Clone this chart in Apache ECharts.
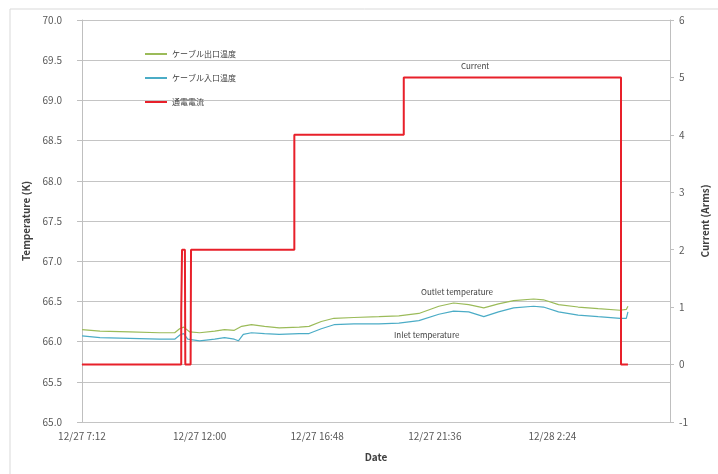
<!DOCTYPE html>
<html>
<head>
<meta charset="utf-8">
<script src="https://cdn.jsdelivr.net/npm/echarts@6/dist/echarts.min.js"></script>
<style>html,body{margin:0;padding:0;background:#fff;}#c{width:718px;height:474px;}</style>
</head>
<body>
<div id="c"></div>
<script>
// minutes since 12/27 7:12
const seriesNames = ['ケーブル出口温度', 'ケーブル入口温度', '通電電流'];

const outletTime = [0,44,117,190,227,239,249,264,288,325,349,373,391,415,447,483,532,556,586,617,666,727,776,825,874,910,947,984,1020,1057,1106,1130,1167,1215,1264,1318,1333,1337];
const outletTemp = [66.15,66.13,66.12,66.11,66.11,66.16,66.18,66.12,66.11,66.13,66.15,66.14,66.19,66.21,66.19,66.17,66.18,66.19,66.25,66.29,66.30,66.31,66.32,66.35,66.44,66.48,66.46,66.42,66.47,66.51,66.53,66.52,66.46,66.43,66.41,66.39,66.40,66.44];

const inletTime = [0,44,117,190,227,239,249,259,288,325,349,373,383,395,415,447,483,532,556,586,617,666,727,776,825,874,910,947,984,1020,1057,1106,1130,1167,1215,1264,1318,1333,1337];
const inletTemp = [66.07,66.05,66.04,66.03,66.03,66.08,66.10,66.03,66.01,66.03,66.05,66.03,66.01,66.09,66.11,66.10,66.09,66.10,66.10,66.16,66.21,66.22,66.22,66.23,66.26,66.34,66.38,66.37,66.31,66.37,66.42,66.44,66.43,66.37,66.33,66.31,66.29,66.29,66.37];

const currentTime = [0,243,243,244,245,252,253,266,267,520,520,788,788,1320,1320,1337];
const currentValue = [0,0,0.9,0.9,2,2,0,0,2,2,4,4,5,5,0,0];

const zip = (a, b) => a.map((v, i) => [v, b[i]]);

function fmtTime(m) {
  if (m >= 1440) return '';
  const t = m + 432; // 7:12 offset
  const day = 27 + Math.floor(t / 1440);
  const r = ((t % 1440) + 1440) % 1440;
  const h = Math.floor(r / 60);
  const mm = Math.round(r % 60);
  return '12/' + day + ' ' + h + ':' + (mm < 10 ? '0' + mm : mm);
}

const FONT = '"Noto Sans CJK JP", "Liberation Sans", sans-serif';
const chart = echarts.init(document.getElementById('c'));
chart.setOption({
  animation: false,
  backgroundColor: '#fff',
  textStyle: { fontFamily: FONT },
  grid: { left: 82, right: 46, top: 20, bottom: 52 },
  legend: {
    orient: 'vertical', left: 140, top: 45, itemGap: 16,
    itemWidth: 22, itemHeight: 2, icon: 'rect',
    textStyle: { fontSize: 8, color: '#404040', fontFamily: FONT },
    data: seriesNames
  },
  xAxis: {
    type: 'value', min: 0, max: 1440, interval: 288,
    name: 'Date', nameLocation: 'middle', nameGap: 30,
    nameTextStyle: { fontSize: 10, fontWeight: 'bold', color: '#404040' },
    axisLine: { lineStyle: { color: '#bfbfbf' } },
    axisTick: { show: false },
    axisLabel: { fontSize: 10, color: '#595959', margin: 9, formatter: fmtTime, showMaxLabel: false },
    splitLine: { show: false }
  },
  yAxis: [{
    type: 'value', min: 65, max: 70, interval: 0.5,
    name: 'Temperature (K)', nameLocation: 'middle', nameGap: 45, nameRotate: 90,
    nameTextStyle: { fontSize: 10, fontWeight: 'bold', color: '#404040' },
    axisLine: { show: true, lineStyle: { color: '#bfbfbf' } },
    axisTick: { show: true, length: 5, lineStyle: { color: '#bfbfbf' } },
    axisLabel: { fontSize: 10, color: '#595959', margin: 20, formatter: v => v.toFixed(1) },
    splitLine: { show: true, lineStyle: { color: '#c4c4c4', width: 1 } }
  }, {
    type: 'value', min: -1, max: 6, interval: 1, position: 'right',
    name: 'Current (Arms)', nameLocation: 'middle', nameGap: 30, nameRotate: 90,
    nameTextStyle: { fontSize: 10, fontWeight: 'bold', color: '#404040' },
    axisLine: { show: true, lineStyle: { color: '#bfbfbf' } },
    axisTick: { show: true, length: 4, lineStyle: { color: '#bfbfbf' } },
    axisLabel: { fontSize: 10, color: '#595959', margin: 9 },
    splitLine: { show: false }
  }],
  series: [{
    name: seriesNames[0], type: 'line', yAxisIndex: 0, showSymbol: false,
    data: zip(outletTime, outletTemp), color: '#9bbb59',
    lineStyle: { width: 1.2, color: '#9bbb59' }
  }, {
    name: seriesNames[1], type: 'line', yAxisIndex: 0, showSymbol: false,
    data: zip(inletTime, inletTemp), color: '#4bacc6',
    lineStyle: { width: 1.2, color: '#4bacc6' }
  }, {
    name: seriesNames[2], type: 'line', yAxisIndex: 1, showSymbol: false,
    data: zip(currentTime, currentValue), color: '#e8202a',
    lineStyle: { width: 2, color: '#e8202a' }
  }],
  graphic: [
    { type: 'rect', shape: { x: 10, y: 9, width: 760, height: 520 }, style: { fill: 'none', stroke: '#d9d9d9', lineWidth: 1 } },
    { type: 'text', left: 461, top: 62, style: { text: 'Current', fontSize: 8, fill: '#404040', fontFamily: FONT } },
    { type: 'text', left: 421, top: 288, style: { text: 'Outlet temperature', fontSize: 8, fill: '#404040', fontFamily: FONT } },
    { type: 'text', left: 394, top: 331, style: { text: 'Inlet temperature', fontSize: 8, fill: '#404040', fontFamily: FONT } }
  ]
});
</script>
</body>
</html>
